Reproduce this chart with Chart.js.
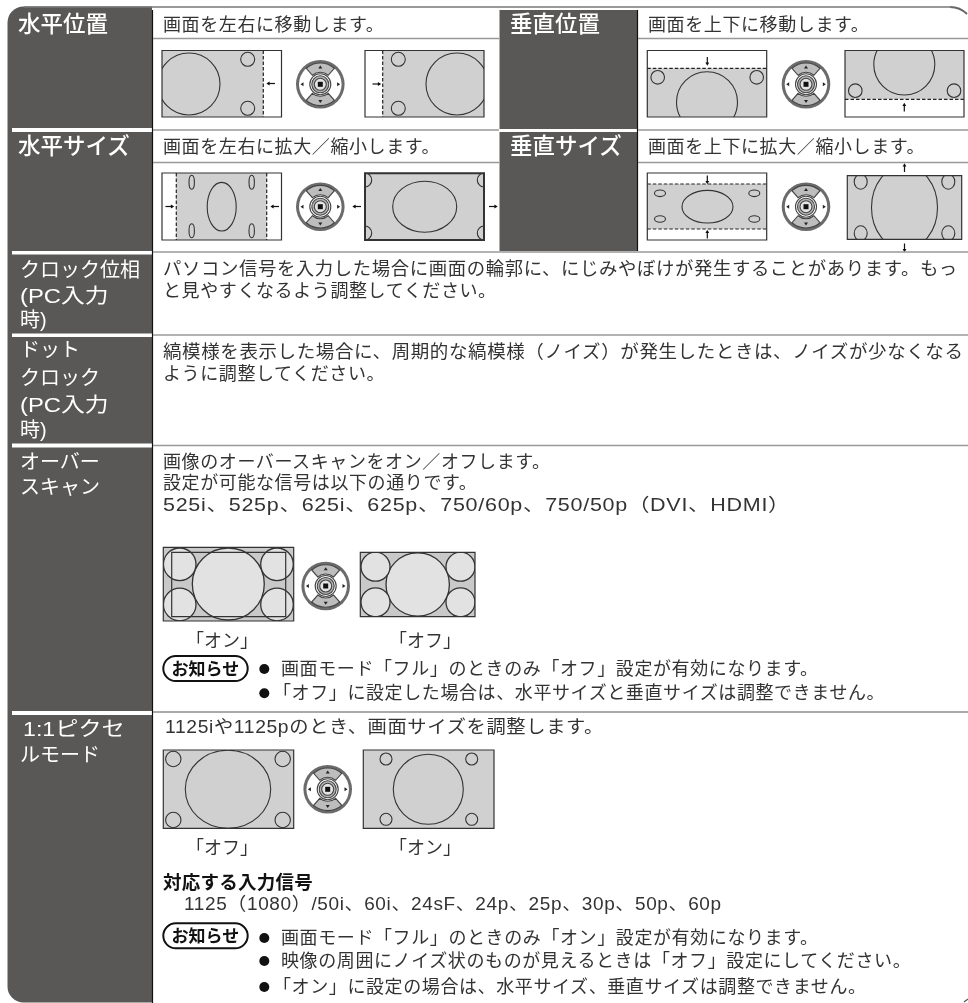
<!DOCTYPE html>
<html lang="ja">
<head>
<meta charset="utf-8">
<script src="https://cdn.jsdelivr.net/npm/chart.js@4"></script>
<style>
html, body { margin: 0; padding: 0; background: #fff; }
#page { position: relative; width: 968px; height: 1003px; overflow: hidden; }
canvas { position: absolute; left: 0; top: 0; }
.t { position: absolute; white-space: nowrap; transform: translateY(-50%); transform-origin: left center; line-height: 1;
     font-family: "Liberation Sans", "Noto Sans CJK JP", sans-serif; color: #333; }
.title { font-size: 22.5px; color: #fff; font-weight: 500; }
.side { font-size: 20px; color: #fff; }
.body { font-size: 18px; letter-spacing: 0.6px; }
.cap { font-size: 18px; }
.strong { font-size: 18.5px; letter-spacing: 0.25px; font-weight: 700; color: #111; }
.pill { font-size: 17px; font-weight: 700; color: #111; }
</style>
</head>
<body>
<div id="page"><canvas id="sheet" width="968" height="1003"></canvas></div>
<script>
// text
const titles = ['水平位置', '水平サイズ', '垂直位置', '垂直サイズ'];
const titleAt = [[18, 25], [18, 146.5], [510, 25], [510, 146.5]];
const sideLines = ['クロック位相', '(PC入力', '時)', 'ドット', 'クロック', '(PC入力', '時)', 'オーバー', 'スキャン', '1:1ピクセ', 'ルモード'];
const sideAt = [[20, 270], [20, 296], [20, 320], [20, 350], [20, 378], [20, 405], [20, 430], [20, 462], [20, 487], [23, 729], [20, 755]];
const sideEnds = {1: 108, 5: 108, 9: 125};
const bodyLines = [
  '画面を左右に移動します。', '画面を上下に移動します。',
  '画面を左右に拡大／縮小します。', '画面を上下に拡大／縮小します。',
  'パソコン信号を入力した場合に画面の輪郭に、にじみやぼけが発生することがあります。もっ',
  'と見やすくなるよう調整してください。',
  '縞模様を表示した場合に、周期的な縞模様（ノイズ）が発生したときは、ノイズが少なくなる',
  'ように調整してください。',
  '画像のオーバースキャンをオン／オフします。',
  '設定が可能な信号は以下の通りです。',
  '525i、525p、625i、625p、750/60p、750/50p（DVI、HDMI）',
  '画面モード「フル」のときのみ「オフ」設定が有効になります。',
  '「オフ」に設定した場合は、水平サイズと垂直サイズは調整できません。',
  '1125iや1125pのとき、画面サイズを調整します。',
  '1125（1080）/50i、60i、24sF、24p、25p、30p、50p、60p',
  '画面モード「フル」のときのみ「オン」設定が有効になります。',
  '映像の周囲にノイズ状のものが見えるときは「オフ」設定にしてください。',
  '「オン」に設定の場合は、水平サイズ、垂直サイズは調整できません。'
];
const bodyAt = [[163, 25], [648, 25], [163, 146.5], [648, 146.5], [163, 269], [163, 291], [163, 352], [163, 374],
  [163, 462], [163, 483], [163, 505], [281, 669], [273, 693], [165, 727], [184, 904], [281, 938], [281, 961], [273, 987]];
const bodyEnds = {4: 958, 6: 964, 10: 790, 13: 604, 14: 722};
const captions = ['「オン」', '「オフ」', '「オフ」', '「オン」'];
const captionAt = [[186, 641], [389, 641], [186, 848], [389, 848]];
const headingText = '対応する入力信号';
const headingAt = [163, 883];
const noticeText = 'お知らせ';
const noticeAt = [[171.5, 668.5], [171.5, 935.5]];

// panels
const bands = [[12, 128, 152, 132], [12, 251, 152, 254.5], [12, 333.5, 152, 337], [12, 443.5, 152, 447.5], [12, 711, 152, 715]];
const rightCells = [[499.5, 10, 637, 129], [499.5, 132, 637, 251]];
const rules = [
  [153, 38.5, 499, 38.5], [638, 38.5, 968, 38.5], [153, 130, 499, 130], [638, 130, 968, 130],
  [153, 162.5, 499, 162.5], [638, 162.5, 968, 162.5], [153, 252, 968, 252], [153, 335, 968, 335], [153, 445.5, 968, 445.5]
];
const darkRules = [[153, 712, 968, 712], [964, 1002, 968, 999]];
const frameRules = [[24, 7, 952, 7]];
const dividers = [[152.5, 10, 152.5, 1003], [637.5, 10, 637.5, 251]];

// screens: outer box, shaded box
const screens = [
  [162, 50.5, 281.5, 117, 162, 50.5, 263.3, 117], [365, 50.5, 484, 117, 382.7, 50.5, 484, 117],
  [162, 173, 281.5, 240, 176.3, 173, 266.7, 240], [365, 173.3, 484, 240, 365, 173.3, 484, 240],
  [647.3, 50.5, 766.7, 117, 647.3, 68.3, 766.7, 117], [845, 50.5, 964, 117, 845, 50.5, 964, 99.3],
  [647.3, 173, 766.7, 240, 647.3, 184, 766.7, 229], [847.3, 175.7, 961.7, 239.3, 847.3, 175.7, 961.7, 239.3],
  [163.3, 547.3, 293.7, 621, 163.3, 547.3, 293.7, 621], [360.3, 552.3, 475, 616.7, 360.3, 552.3, 475, 616.7],
  [163.3, 750, 293.7, 828.3, 163.3, 750, 293.7, 828.3], [363.3, 750, 494, 828.3, 363.3, 750, 494, 828.3]
];
// rings per screen: cx, cy, rx, ry
const rings = [
  [[189, 84, 31, 31], [247.7, 59.3, 7, 7], [247.7, 108.3, 7, 7]],
  [[457, 84, 31, 31], [398.3, 59.3, 7, 7], [398.3, 108.3, 7, 7]],
  [[221.7, 206.7, 14.5, 24.3], [191.7, 182.3, 2.7, 7], [251.7, 182.3, 2.7, 7], [191.7, 230.7, 2.7, 7], [251.7, 230.7, 2.7, 7]],
  [[424.7, 206.7, 32, 25.5], [365, 180, 6.7, 7], [484, 180, 6.7, 7], [365, 233, 6.7, 7], [484, 233, 6.7, 7]],
  [[707, 102.2, 30.5, 30.5], [657.7, 77.3, 6.8, 6.8], [756.7, 77.3, 6.8, 6.8]],
  [[904.3, 64.5, 30.5, 30.5], [855.3, 90.7, 6.8, 6.8], [954, 90.7, 6.8, 6.8]],
  [[707.5, 206.7, 25.5, 16.3], [660, 193.3, 5.5, 3.3], [754.3, 193.3, 5.5, 3.3], [660, 219, 5.5, 3.3], [754.3, 219, 5.5, 3.3]],
  [[904.5, 207.5, 33, 42], [860.7, 181.7, 6.5, 7.5], [948.3, 181.7, 6.5, 7.5], [860.7, 233.3, 6.5, 7.5], [948.3, 233.3, 6.5, 7.5]],
  [[228.3, 584, 36, 36], [179.7, 564.3, 16.3, 16.3], [277, 564.3, 16.3, 16.3], [179.7, 604.5, 16.3, 16.3], [277, 604.5, 16.3, 16.3]],
  [[417.7, 584.5, 31.7, 31.7], [375.5, 566.7, 14.5, 14.5], [460.5, 566.7, 14.5, 14.5], [375.5, 602.3, 14.5, 14.5], [460.5, 602.3, 14.5, 14.5]],
  [[228, 789.3, 42.7, 39], [173.3, 759, 7.7, 7.7], [282.7, 759, 7.7, 7.7], [173.3, 820, 7.7, 7.7], [282.7, 820, 7.7, 7.7]],
  [[428.3, 789.3, 35, 35], [386, 759, 6, 6], [471.7, 759, 6, 6], [386, 819.3, 6, 6], [471.7, 819.3, 6, 6]]
];
const lightRingScreens = [8, 9];
const overscanBox = [171.7, 552.3, 285.7, 616.7];
const dashes = [
  [263.3, 50.5, 263.3, 117], [382.7, 50.5, 382.7, 117], [176.3, 173, 176.3, 240], [266.7, 173, 266.7, 240],
  [647.3, 68.3, 766.7, 68.3], [845, 99.3, 964, 99.3], [647.3, 184, 766.7, 184], [647.3, 229, 766.7, 229]
];
const keypads = [[320.3, 84.3], [320.3, 206.7], [806, 84.3], [806, 206.7], [325.7, 586], [327.7, 789.3]];
// arrows: centre x, centre y, direction
const arrows = [
  [271.5, 83.5, 'L'], [376, 84, 'R'], [169, 206.5, 'R'], [275.5, 206.5, 'L'], [357.5, 206.5, 'L'], [492.5, 206.5, 'R'],
  [707.3, 60.5, 'D'], [904.3, 108, 'U'], [707.3, 179, 'D'], [707.3, 235, 'U'], [904.5, 168.5, 'U'], [904.5, 247, 'D']
];
const bullets = [[264.3, 669], [264.3, 693.3], [264.3, 938], [264.3, 961], [264.3, 987]];
const notices = [[163.3, 656, 247.7, 681], [163.3, 923.3, 247.7, 948.3]];

const page = document.getElementById('page');
function addText(text, pos, cls, end) {
  const el = document.createElement('div');
  el.className = 't ' + cls;
  el.textContent = text;
  el.style.left = pos[0] + 'px';
  el.style.top = pos[1] + 'px';
  page.appendChild(el);
  if (end) {
    el.style.transform = 'translateY(-50%) scaleX(' + (end - pos[0]) / el.offsetWidth + ')';
  }
}
titles.forEach((s, i) => addText(s, titleAt[i], 'title'));
sideLines.forEach((s, i) => addText(s, sideAt[i], 'side', sideEnds[i]));
bodyLines.forEach((s, i) => addText(s, bodyAt[i], 'body', bodyEnds[i]));
captions.forEach((s, i) => addText(s, captionAt[i], 'cap'));
addText(headingText, headingAt, 'strong');
noticeAt.forEach(p => addText(noticeText, p, 'pill'));

function lineSets(segments, color, width, dash) {
  return segments.map(s => ({
    data: [{x: s[0], y: s[1]}, {x: s[2], y: s[3]}],
    showLine: true,
    borderColor: color,
    borderWidth: width,
    borderDash: dash || [],
    pointRadius: 0
  }));
}

const arrowShafts = arrows.map(a => {
  const horizontal = a[2] === 'L' || a[2] === 'R';
  return horizontal ? [a[0] - 3.5, a[1], a[0] + 3.5, a[1]] : [a[0], a[1] - 3.5, a[0], a[1] + 3.5];
});
const turn = {U: 0, R: 90, D: 180, L: 270};
const step = {U: [0, -3], R: [3, 0], D: [0, 3], L: [-3, 0]};

// panels, screens and keypads go under the datasets
const sheetPlugin = {
  id: 'sheet',
  beforeDatasetsDraw(chart) {
    const ctx = chart.ctx;
    const px = v => chart.scales.x.getPixelForValue(v);
    const py = v => chart.scales.y.getPixelForValue(v);
    const box = (b, radii) => {
      ctx.beginPath();
      ctx.roundRect(px(b[0]), py(b[1]), px(b[2]) - px(b[0]), py(b[3]) - py(b[1]), radii || 0);
    };
    ctx.save();

    // top right corner of the frame
    ctx.strokeStyle = '#666';
    ctx.lineWidth = 2;
    ctx.beginPath();
    ctx.moveTo(px(950), py(7));
    ctx.quadraticCurveTo(px(960), py(7), px(967), py(14));
    ctx.stroke();

    ctx.fillStyle = '#595856';
    box([7.5, 6.5, 152, 1002.5], [16, 0, 0, 16]);
    ctx.fill();
    rightCells.forEach(c => { box(c); ctx.fill(); });
    ctx.fillStyle = '#fff';
    bands.forEach(c => { box(c); ctx.fill(); });

    screens.forEach((s, i) => {
      const light = lightRingScreens.includes(i);
      ctx.fillStyle = '#fff';
      box([s[0], s[1], s[2], s[3]]);
      ctx.fill();
      ctx.fillStyle = light ? '#c9c9c9' : '#d0d0d0';
      box([s[4], s[5], s[6], s[7]]);
      ctx.fill();

      ctx.save();
      box([s[0], s[1], s[2], s[3]]);
      ctx.clip();
      ctx.strokeStyle = '#333';
      ctx.lineWidth = light ? 1.3 : 1.1;
      rings[i].forEach(r => {
        ctx.beginPath();
        ctx.ellipse(px(r[0]), py(r[1]), r[2], r[3], 0, 0, Math.PI * 2);
        if (light) {
          ctx.fillStyle = '#e2e2e2';
          ctx.fill();
        }
        ctx.stroke();
      });
      ctx.restore();

      ctx.strokeStyle = '#333';
      ctx.lineWidth = i === 3 ? 2 : 1.2;
      box([s[0], s[1], s[2], s[3]]);
      ctx.stroke();
    });
    ctx.strokeStyle = '#333';
    ctx.lineWidth = 1.2;
    box(overscanBox);
    ctx.stroke();

    keypads.forEach(k => {
      const cx = px(k[0]), cy = py(k[1]);
      const disc = (r, fill, stroke) => {
        ctx.beginPath();
        ctx.arc(cx, cy, r, 0, Math.PI * 2);
        ctx.fillStyle = fill;
        ctx.fill();
        if (stroke) {
          ctx.strokeStyle = stroke;
          ctx.lineWidth = 1.1;
          ctx.stroke();
        }
      };
      disc(24.3, '#6b6b6b');
      disc(21.3, '#fff');
      [-Math.PI / 2, Math.PI / 2].forEach(mid => {
        ctx.beginPath();
        ctx.arc(cx, cy, 21.3, mid - 0.72, mid + 0.72);
        ctx.arc(cx, cy, 12, mid + 0.72, mid - 0.72, true);
        ctx.closePath();
        ctx.fillStyle = '#bdbdbd';
        ctx.fill();
        ctx.strokeStyle = '#444';
        ctx.lineWidth = 1.1;
        ctx.stroke();
      });
      disc(10.5, '#fff', '#444');
      disc(8.5, '#b5b5b5', '#444');
      disc(6, '#e4e4e4', '#444');
      ctx.fillStyle = '#111';
      ctx.fillRect(cx - 2.5, cy - 2.5, 5, 5);
      [[0, -17, 0], [0, 17, 2], [-18, 0, 3], [18, 0, 1]].forEach(t => {
        ctx.save();
        ctx.translate(cx + t[0], cy + t[1]);
        ctx.rotate(t[2] * Math.PI / 2);
        ctx.beginPath();
        ctx.moveTo(0, -1.8);
        ctx.lineTo(2, 1.2);
        ctx.lineTo(-2, 1.2);
        ctx.closePath();
        ctx.fillStyle = '#222';
        ctx.fill();
        ctx.restore();
      });
    });

    ctx.strokeStyle = '#111';
    ctx.lineWidth = 2;
    notices.forEach(n => { box(n, 12.5); ctx.stroke(); });
    ctx.restore();
  }
};

new Chart(document.getElementById('sheet'), {
  type: 'scatter',
  data: {
    datasets: [
      ...lineSets(frameRules, '#777', 1.5),
      ...lineSets(rules, '#999', 1.5),
      ...lineSets(darkRules, '#555', 1.2),
      ...lineSets(dividers, '#111', 1.2),
      ...lineSets(dashes, '#222', 1.2, [3.5, 2]),
      ...lineSets(arrowShafts, '#111', 1.2),
      {
        data: arrows.map(a => ({x: a[0] + step[a[2]][0], y: a[1] + step[a[2]][1]})),
        pointStyle: 'triangle',
        pointRotation: arrows.map(a => turn[a[2]]),
        pointRadius: 2.2,
        pointBackgroundColor: '#111',
        pointBorderWidth: 0
      },
      {
        data: bullets.map(b => ({x: b[0], y: b[1]})),
        pointRadius: 5,
        pointBackgroundColor: '#111',
        pointBorderWidth: 0
      }
    ]
  },
  options: {
    responsive: false,
    animation: false,
    events: [],
    layout: {padding: 0, autoPadding: false},
    scales: {
      x: {type: 'linear', display: false, min: 0, max: 968},
      y: {type: 'linear', display: false, min: 0, max: 1003, reverse: true}
    },
    plugins: {
      legend: {display: false},
      tooltip: {enabled: false}
    }
  },
  plugins: [sheetPlugin]
});
</script>
</body>
</html>
